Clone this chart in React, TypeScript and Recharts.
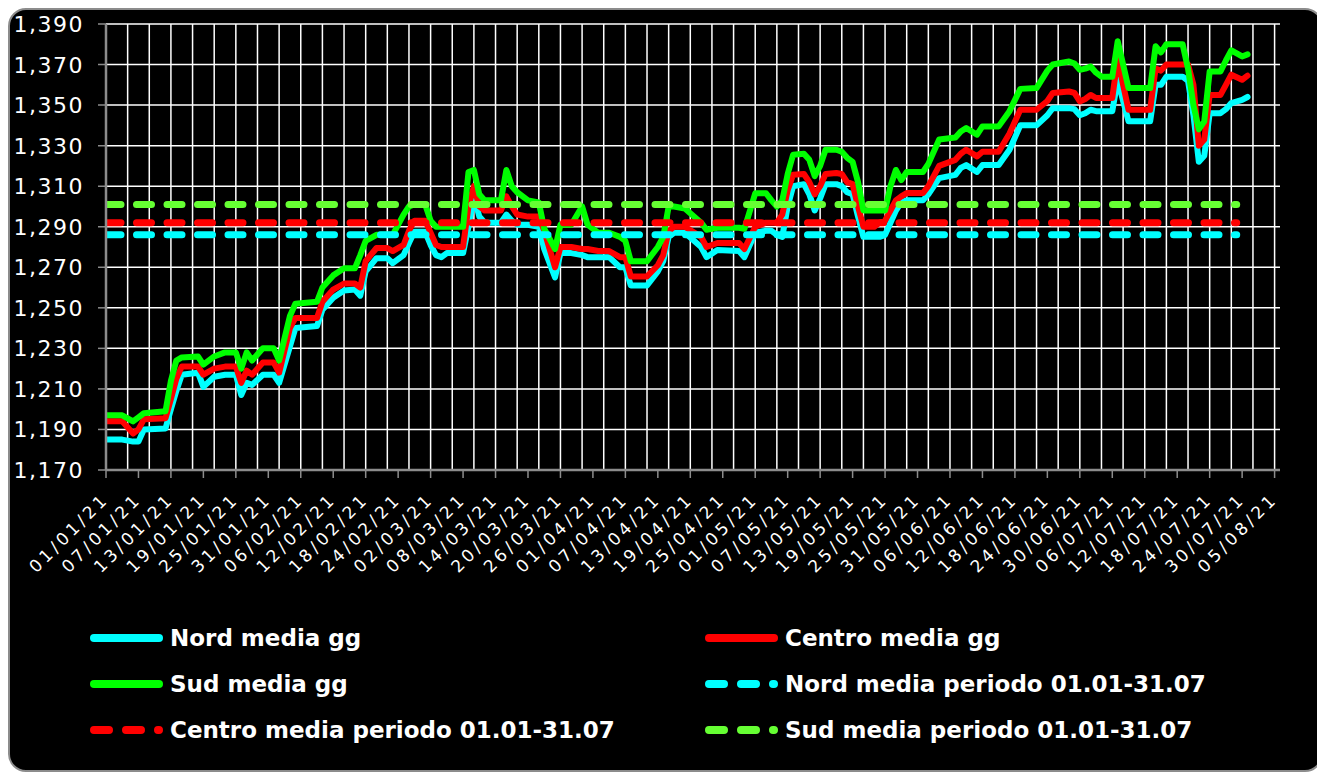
import { LineChart, Line, XAxis, YAxis, CartesianGrid } from "recharts";

// day index counted from 01/01/21
const days = [
  0, 3, 5, 6, 7, 11, 12, 13, 14, 17, 18, 20, 22, 24, 25, 26, 27, 29, 31, 32, 34, 35, 39, 40, 42, 44, 46, 47, 48, 50,
  52, 53, 55, 56, 57, 59, 60, 61, 62, 63, 66,
  67, 68, 69, 70, 73, 74, 75, 76, 78, 80, 81, 83, 84, 86, 88, 89, 91, 93, 95, 96, 97, 100, 102, 103, 104, 105, 107,
  110, 111, 113, 117, 118, 120, 122, 123, 124, 125, 126, 127, 129, 130, 131, 132, 133, 135, 136, 137, 138, 139, 140,
  142, 143, 144, 145, 146, 147, 148, 151,
  152, 154, 157, 158, 159, 161, 162, 165, 167, 169, 172, 174, 175, 178, 179, 180, 181, 182, 183, 184, 186, 187, 188,
  189, 193, 194, 195, 196, 199, 200, 201, 202, 203, 204, 206, 207, 208, 210, 211,
];

const nord = [
  1185, 1185, 1184, 1184, 1190, 1190.5, 1200, 1209, 1217, 1218, 1211, 1216, 1217, 1217, 1207, 1213, 1212, 1217, 1217,
  1213, 1231, 1240, 1241, 1249, 1255, 1258.5, 1259, 1256, 1268, 1274.5, 1274.5, 1272, 1276, 1282, 1287.5, 1287.5, 1281,
  1276, 1275, 1277, 1277,
  1290, 1305, 1295, 1292, 1292, 1296, 1293, 1291, 1291, 1290, 1279, 1265, 1277, 1277, 1276, 1275, 1275, 1275, 1270,
  1270, 1261, 1261, 1268, 1273, 1285, 1287, 1287,
  1280, 1275, 1278.5, 1278, 1275, 1287, 1288, 1288, 1286, 1285, 1300, 1310, 1311, 1306, 1298, 1304, 1311, 1311, 1310,
  1307, 1306, 1295, 1285, 1285, 1285, 1286, 1292, 1298, 1302, 1303, 1303,
  1306, 1314, 1315.6, 1319, 1320.4, 1317, 1320.4, 1320.4, 1328, 1340, 1340, 1345, 1348.5, 1348.5, 1348, 1345, 1346,
  1347.7, 1347, 1347, 1347, 1362.5, 1352, 1342, 1342, 1360, 1360, 1364, 1364, 1362, 1345, 1322, 1325, 1346, 1346,
  1348, 1351, 1352.6, 1354,
];

const centro = [
  1194, 1194, 1188, 1190, 1195, 1195.5, 1205, 1215, 1221, 1221, 1217, 1220, 1221, 1221, 1213, 1219, 1217, 1223, 1223,
  1218, 1240, 1245, 1245, 1253, 1259, 1262, 1262, 1260, 1273, 1279.5, 1279.5, 1278, 1281, 1288, 1293, 1293, 1287, 1281,
  1280, 1280, 1280,
  1300, 1310, 1300, 1298, 1298, 1305, 1300, 1296, 1295, 1295, 1288, 1270, 1280, 1280, 1279, 1279, 1278, 1278, 1275,
  1275, 1265.5, 1265.5, 1271, 1276, 1288, 1290, 1290,
  1285, 1280, 1282, 1282, 1279, 1290, 1292, 1292, 1292, 1296, 1308, 1315.6, 1316, 1312, 1306, 1310, 1316, 1316.5,
  1316, 1312, 1311, 1300, 1290, 1290, 1292, 1293, 1298, 1303, 1305, 1306.6, 1306.6,
  1310, 1320, 1323, 1326, 1328, 1324.7, 1327, 1327, 1336, 1347.7, 1347.7, 1352, 1356, 1356.7, 1356, 1351.8, 1353,
  1355, 1353.5, 1353.5, 1353.5, 1373, 1360, 1347.7, 1347.7, 1368, 1367, 1370, 1370, 1370, 1360, 1330, 1333, 1355,
  1355, 1360, 1365, 1362.5, 1364.5,
];

const sud = [
  1197, 1197, 1194, 1196, 1198, 1199, 1214, 1224, 1225.5, 1226, 1222, 1226, 1228, 1228, 1220, 1228, 1224, 1230, 1230,
  1224, 1246, 1252, 1253, 1260, 1266, 1269.5, 1269.5, 1276, 1283, 1286, 1286, 1286, 1296, 1300, 1301, 1301, 1293, 1290,
  1290, 1290, 1290,
  1317, 1318, 1306, 1303, 1303, 1318, 1310, 1307, 1303, 1302, 1289, 1279, 1291, 1291, 1300, 1291, 1287, 1287, 1285,
  1283, 1273, 1273, 1280, 1285, 1300, 1300, 1299,
  1292, 1288.5, 1289.5, 1289.5, 1289, 1306.5, 1306.5, 1303, 1300, 1303, 1316, 1325.5, 1326, 1323, 1315, 1320, 1328,
  1328, 1327, 1324, 1322, 1312, 1298, 1298, 1298, 1298, 1310, 1318, 1313, 1317, 1317,
  1321, 1333, 1334, 1337, 1338.7, 1335.4, 1339.5, 1339.5, 1347, 1358, 1358.4, 1367, 1370, 1371.5, 1370.5, 1367.4, 1368,
  1369, 1366, 1364, 1364, 1381.5, 1370, 1358.4, 1358.4, 1379, 1376, 1380, 1380, 1368, 1350, 1338, 1342, 1366.6,
  1366.6, 1372, 1377, 1374, 1375,
];

// period averages 01.01-31.07
const avgDays = [0, 209];
const nordAvg = 1286;
const centroAvg = 1292;
const sudAvg = 1301;

const tickLabels = [
  "01/01/21", "07/01/21", "13/01/21", "19/01/21", "25/01/21", "31/01/21", "06/02/21", "12/02/21", "18/02/21",
  "24/02/21", "02/03/21", "08/03/21", "14/03/21", "20/03/21", "26/03/21", "01/04/21", "07/04/21", "13/04/21",
  "19/04/21", "25/04/21", "01/05/21", "07/05/21", "13/05/21", "19/05/21", "25/05/21", "31/05/21", "06/06/21",
  "12/06/21", "18/06/21", "24/06/21", "30/06/21", "06/07/21", "12/07/21", "18/07/21", "24/07/21", "30/07/21",
  "05/08/21",
];
const yTicks = [1170, 1190, 1210, 1230, 1250, 1270, 1290, 1310, 1330, 1350, 1370, 1390];

const legendItems = [
  { label: "Nord media gg", color: "#00ffff", dashed: false },
  { label: "Centro media gg", color: "#ff0000", dashed: false },
  { label: "Sud media gg", color: "#00ff00", dashed: false },
  { label: "Nord media periodo 01.01-31.07", color: "#00ffff", dashed: true },
  { label: "Centro media periodo 01.01-31.07", color: "#ff0000", dashed: true },
  { label: "Sud media periodo 01.01-31.07", color: "#66ff33", dashed: true },
];

const X_MAX = 217;
const tickDays = tickLabels.map((_, i) => i * 6);
const gridDays = Array.from({ length: 54 }, (_, i) => (i + 1) * 4);

const data = days.map((d, i) => ({ day: d, nord: nord[i], centro: centro[i], sud: sud[i] }));
const avgData = avgDays.map((d) => ({ day: d, nordAvg, centroAvg, sudAvg }));

// chart geometry
const CHART_W = 1311;
const CHART_H = 760;
const Y_AXIS_W = 96;
const MARGIN = { top: 14, right: 41, left: 0, bottom: 0 };
const PLOT_W = CHART_W - Y_AXIS_W - MARGIN.left - MARGIN.right;
const verticalPoints = gridDays.map((d) => MARGIN.left + Y_AXIS_W + (d / X_MAX) * PLOT_W);

const FONT = "'DejaVu Sans', Verdana, sans-serif";

const XTick = ({ x, y, payload }: any) => {
  const ax = x + 4;
  const ay = y + 20;
  const label = tickLabels[tickDays.indexOf(payload.value)] ?? "";
  return (
    <text x={ax} y={ay} transform={`rotate(-45 ${ax} ${ay})`} textAnchor="end" fill="#fff" fontSize={17}
      fontFamily={FONT} letterSpacing={3.5}>
      {label}
    </text>
  );
};

const YTick = ({ x, y, payload }: any) => (
  <text x={x} y={y} dy={8} textAnchor="end" fill="#fff" fontSize={22} fontFamily={FONT} letterSpacing={1.5}>
    {Number(payload.value).toLocaleString("en-US")}
  </text>
);

const LegendIcon = ({ color, dashed }: { color: string; dashed: boolean }) => (
  <svg width={80} height={12} style={{ display: "block", flex: "none" }}>
    <line x1={4} y1={6} x2={69} y2={6} stroke={color} strokeWidth={8} strokeLinecap="round"
      strokeDasharray={dashed ? "15 17" : undefined} />
  </svg>
);

const App = () => {
  const colX = [80, 695];
  const rowY = [628, 674, 720];

  return (
    <div style={{ position: "relative", width: 1315, height: 764, boxSizing: "border-box", background: "#000",
      border: "2px solid #8c8c8c", borderRadius: 18, overflow: "hidden" }}>
      <LineChart width={CHART_W} height={CHART_H} data={data} margin={MARGIN}>
        <CartesianGrid vertical={false} stroke="#ffffff" strokeWidth={1.5} />
        <CartesianGrid horizontal={false} stroke="#ffffff" strokeWidth={1.5} verticalPoints={verticalPoints} />
        <XAxis dataKey="day" type="number" domain={[0, X_MAX]} ticks={tickDays} interval={0} height={300}
          tick={<XTick />} tickSize={8} tickMargin={2} axisLine={{ stroke: "#8c8c8c", strokeWidth: 2.5 }}
          tickLine={{ stroke: "#8c8c8c", strokeWidth: 1.5 }} allowDataOverflow />
        <YAxis type="number" domain={[1170, 1390]} ticks={yTicks} interval={0} width={Y_AXIS_W} tick={<YTick />}
          tickSize={8} tickMargin={14} axisLine={{ stroke: "#8c8c8c", strokeWidth: 2.5 }}
          tickLine={{ stroke: "#8c8c8c", strokeWidth: 1.5 }} allowDataOverflow />
        <Line dataKey="nord" type="linear" stroke="#00ffff" strokeWidth={6} dot={false}
          strokeLinejoin="round" strokeLinecap="round" isAnimationActive={false} />
        <Line dataKey="centro" type="linear" stroke="#ff0000" strokeWidth={6} dot={false}
          strokeLinejoin="round" strokeLinecap="round" isAnimationActive={false} />
        <Line dataKey="sud" type="linear" stroke="#00ff00" strokeWidth={6} dot={false}
          strokeLinejoin="round" strokeLinecap="round" isAnimationActive={false} />
        <Line data={avgData} dataKey="nordAvg" type="linear" stroke="#00ffff" strokeWidth={7} dot={false}
          strokeDasharray="15 15.5" strokeLinecap="round" isAnimationActive={false} />
        <Line data={avgData} dataKey="centroAvg" type="linear" stroke="#ff0000" strokeWidth={7} dot={false}
          strokeDasharray="15 15.5" strokeLinecap="round" isAnimationActive={false} />
        <Line data={avgData} dataKey="sudAvg" type="linear" stroke="#66ff33" strokeWidth={7} dot={false}
          strokeDasharray="15 15.5" strokeLinecap="round" isAnimationActive={false} />
      </LineChart>

      {legendItems.map((item, i) => (
        <div key={item.label} style={{ position: "absolute", left: colX[i % 2], top: rowY[Math.floor(i / 2)] - 15,
          height: 30, display: "flex", alignItems: "center" }}>
          <LegendIcon color={item.color} dashed={item.dashed} />
          <span style={{ color: "#fff", fontFamily: FONT, fontWeight: "bold", fontSize: 23, whiteSpace: "nowrap" }}>
            {item.label}
          </span>
        </div>
      ))}
    </div>
  );
};

export default App;
